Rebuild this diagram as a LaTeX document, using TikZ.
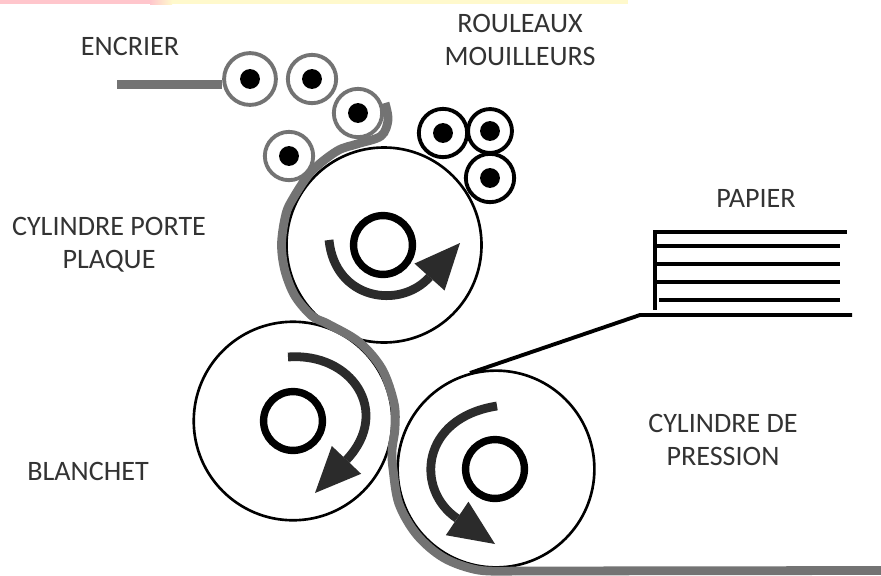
\documentclass[tikz,border=0pt]{standalone}
\usepackage{fontspec}
\setmainfont{Carlito}
\usetikzlibrary{arrows.meta}
\definecolor{inkgray}{gray}{0.45}
\definecolor{darkarrow}{gray}{0.17}
\definecolor{labelgray}{gray}{0.2}
\definecolor{toppink}{RGB}{255,198,204}
\definecolor{topyellow}{RGB}{255,249,204}
\tikzset{
    cylinder/.style={circle, draw, line width=1.5pt, fill=white, inner sep=0pt, minimum size=#1},
    hub/.style={circle, draw, line width=4.2pt, inner sep=0pt, minimum size=#1},
    roller/.style={circle, draw=inkgray, line width=2.2pt, fill=white, inner sep=0pt, minimum size=#1},
    wetroller/.style={circle, draw, line width=2.2pt, fill=white, inner sep=0pt, minimum size=#1},
    axle/.style={circle, fill, inner sep=0pt, minimum size=11.3pt},
    inkband/.style={draw=inkgray, line width=5pt},
    sheet/.style={line width=2.2pt},
    turn/.style={draw=darkarrow, line width=5pt, -{Triangle[length=26pt, width=23pt, line width=0pt, fill=darkarrow]}},
    caption/.style={text=labelgray, font=\fontsize{16}{19}\selectfont, align=center, inner sep=0pt}
}
\begin{document}
\begin{tikzpicture}[x=0.02cm, y=-0.02cm]
    \useasboundingbox (0, 0) rectangle (881, 575);
    \fill[white] (0, 0) rectangle (881, 575);
    \fill[toppink] (0, 0) rectangle (150, 4);
    \shade[left color=toppink, right color=topyellow] (150, 0) rectangle (172, 4);
    \fill[topyellow] (172, 0) rectangle (628, 4);

    \node (porte) at (384, 245) [cylinder=111pt] {};
    \node (blanchet) at (293, 421) [cylinder=113pt] {};
    \node (pression) at (496, 469) [cylinder=112pt] {};

    % ink and paper band
    \draw[inkband] plot[smooth, tension=0.55] coordinates {(385, 103) (388, 120) (381, 136) (357, 144) (337, 151) (311, 172) (291, 202) (285, 218) (281.5, 245) (285, 271) (295, 296) (312, 316) (328, 324) (359, 342) (382, 369) (394, 403) (395, 428) (392, 450) (393, 469) (399, 504) (417, 535) (444, 558) (478, 570) (515, 571)};
    \coordinate (band-start) at (515, 571);
    \coordinate (band-end) at (881, 570.5);
    \draw[inkband] (band-start) -- (band-end);

    \node (hub-1) at (383, 245) [hub=33.5pt] {};
    \node (hub-2) at (293, 421) [hub=33.5pt] {};
    \node (hub-3) at (495, 469) [hub=33.5pt] {};

    % rollers
    \node (encrier-1) at (250, 79) [roller=29.5pt] {};
    \node (encrier-2) at (312, 79) [roller=27.5pt] {};
    \node (encrier-3) at (358, 113) [roller=27.5pt] {};
    \node (encrier-4) at (289, 156) [roller=27.5pt] {};
    \node (mouil-1) at (443, 133) [wetroller=27.5pt] {};
    \node (mouil-2) at (490, 131) [wetroller=25pt] {};
    \node (mouil-3) at (490, 178) [wetroller=27.5pt] {};
    \foreach \n in {encrier-1, encrier-2, encrier-3, encrier-4, mouil-1, mouil-2, mouil-3}
        \node at (\n) [axle] {};

    \coordinate (ink-start) at (117, 84.5);
    \draw[inkband] (ink-start) -- (encrier-1.west |- ink-start);

    % rotation arrows
    \draw[turn] (329, 240) .. controls (335, 300) and (400, 310) .. (460, 243);
    \draw[turn] (288, 357) .. controls (352, 352) and (392, 412) .. (315, 493);
    \draw[turn] (497, 406) .. controls (420, 418) and (415, 490) .. (495, 544);

    % paper
    \coordinate (stack-top) at (655, 230);
    \coordinate (stack-bottom) at (655, 310);
    \draw[sheet] (stack-top) -- (stack-bottom);
    \draw[sheet] (653, 232) -- (847, 232);
    \foreach \y in {246, 264, 282}
        \draw[sheet] (655, \y) -- (840, \y);
    \draw[sheet] (659, 300) -- (840, 300);
    \draw[sheet] (852, 315) -- (640, 315) -- (470, 373);

    \node (label-encrier) at (130, 46) [caption] {ENCRIER};
    \node (label-mouil) at (520, 40) [caption] {ROULEAUX\\MOUILLEURS};
    \node (label-porte) at (109, 245) [caption] {CYLINDRE PORTE\\PLAQUE};
    \node (label-papier) at (756, 198) [caption] {PAPIER};
    \node (label-blanchet) at (88, 471) [caption] {BLANCHET};
    \node (label-pression) at (723, 440) [caption] {CYLINDRE DE\\PRESSION};
\end{tikzpicture}
\end{document}
